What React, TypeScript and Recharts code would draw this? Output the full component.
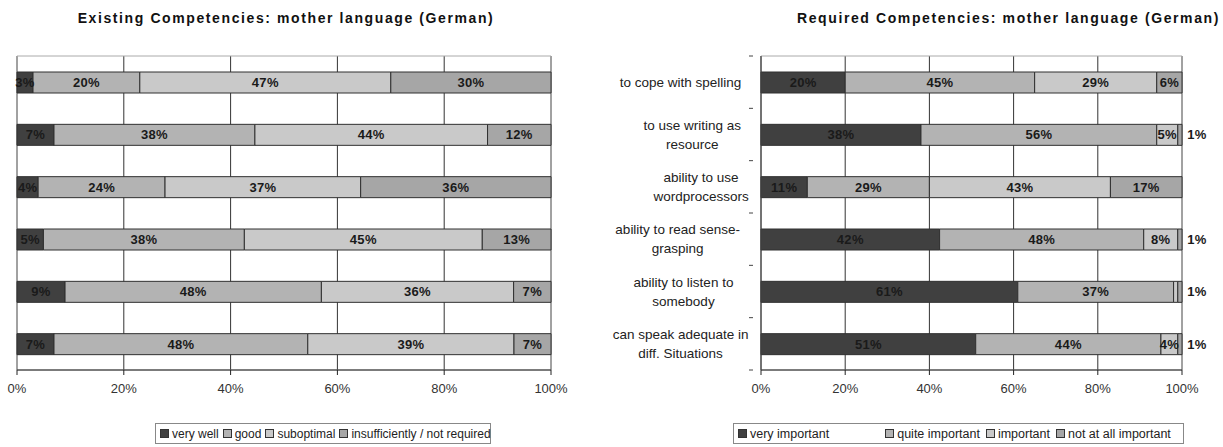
import React from 'react';
import { BarChart, Bar, XAxis, YAxis, CartesianGrid, LabelList, ReferenceArea } from 'recharts';

// ---------- Data ----------
const existingRows = ['r1', 'r2', 'r3', 'r4', 'r5', 'r6'];
const existVeryWell = [3, 7, 4, 5, 9, 7];
const existGood = [20, 38, 24, 38, 48, 48];
const existSuboptimal = [47, 44, 37, 45, 36, 39];
const existInsufficient = [30, 12, 36, 13, 7, 7];
const existLegend = ['very well', 'good', 'suboptimal', 'insufficiently / not required'];

const requiredRows = [
  'to cope with spelling',
  'to use writing as\nresource',
  'ability to use\nwordprocessors',
  'ability to read sense-\ngrasping',
  'ability to listen to\nsomebody',
  'can speak adequate in\ndiff. Situations',
];
const reqVeryImportant = [20, 38, 11, 42, 61, 51];
const reqQuiteImportant = [45, 56, 29, 48, 37, 44];
const reqImportant = [29, 5, 43, 8, 1, 4];
const reqNotImportant = [6, 1, 17, 1, 1, 1];
const reqLegend = ['very important', 'quite important', 'important', 'not at all important'];

const xTicks = [0, 0.2, 0.4, 0.6, 0.8, 1];

const existingData = existingRows.map((cat, i) => ({
  cat,
  a: existVeryWell[i],
  b: existGood[i],
  c: existSuboptimal[i],
  d: existInsufficient[i],
}));

const requiredData = requiredRows.map((cat, i) => ({
  cat,
  a: reqVeryImportant[i],
  b: reqQuiteImportant[i],
  c: reqImportant[i],
  d: reqNotImportant[i],
}));

// ---------- Styles ----------
const FONT = '"Liberation Sans", Arial, sans-serif';
const COLORS = ['#404040', '#b3b3b3', '#c9c9c9', '#a6a6a6'];
const STROKE = '#303030';

const CHART_H = 410;
const PLOT_TOP = 56;
const PLOT_BOTTOM = 370;
const AXIS_H = 30;

const pct = (v: number) => `${Math.round(v * 100)}%`;

const makeLabel = (mode: 'inside' | 'hideSmall' | 'outsideSmall') => (props: any) => {
  const { x, y, width, height, value } = props;
  if (value == null) return null;
  const cy = Number(y) + Number(height) / 2;
  if (mode === 'hideSmall' && value <= 1) return null;
  let cx = Number(x) + Number(width) / 2;
  if (mode === 'outsideSmall' && value <= 1) cx = Number(x) + Number(width) + 15;
  return (
    <text
      x={cx}
      y={cy}
      textAnchor="middle"
      dominantBaseline="central"
      fontFamily={FONT}
      fontWeight="bold"
      fontSize={13}
      letterSpacing={0.3}
      fill="#1a1a1a"
    >
      {`${value}%`}
    </text>
  );
};

const RequiredTick = (props: any) => {
  const { x, y, payload } = props;
  const lines: string[] = String(payload.value).split('\n');
  const band = (PLOT_BOTTOM - PLOT_TOP) / requiredRows.length;
  const maxLen = Math.max(...lines.map((l) => l.length));
  const charW = 5.85;
  const right = Number(x) - 11;
  const cx = right - (maxLen * charW) / 2;
  const lh = 19;
  const startY = Number(y) - ((lines.length - 1) * lh) / 2;
  return (
    <g>
      <line x1={Number(x) - 4} x2={Number(x)} y1={Number(y) - band / 2} y2={Number(y) - band / 2} stroke="#444" />
      {props.index === requiredRows.length - 1 && (
        <line x1={Number(x) - 4} x2={Number(x)} y1={Number(y) + band / 2} y2={Number(y) + band / 2} stroke="#444" />
      )}
      {lines.map((l, i) => (
        <text
          key={i}
          x={cx}
          y={startY + i * lh}
          textAnchor="middle"
          dominantBaseline="central"
          fontFamily={FONT}
          fontSize={13.5}
          fill="#222"
        >
          {l}
        </text>
      ))}
    </g>
  );
};

const LegendBox = ({
  items,
  left,
  width,
  fontSize,
  gapAfterFirst,
  gap,
}: {
  items: string[];
  left: number;
  width: number;
  fontSize: number;
  gapAfterFirst?: number;
  gap: number;
}) => (
  <div
    style={{
      position: 'absolute',
      left,
      top: 423,
      width,
      height: 21,
      border: '1px solid #888',
      boxSizing: 'border-box',
      display: 'flex',
      alignItems: 'center',
      paddingLeft: 4,
      fontFamily: FONT,
      fontSize,
      color: '#222',
      whiteSpace: 'nowrap',
    }}
  >
    {items.map((it, i) => (
      <span
        key={it}
        style={{ display: 'inline-flex', alignItems: 'center', marginRight: i === 0 && gapAfterFirst ? gapAfterFirst : gap }}
      >
        <span
          style={{
            display: 'inline-block',
            width: 7,
            height: 7,
            background: COLORS[i],
            border: '1px solid #333',
            marginRight: 3,
          }}
        />
        {it}
      </span>
    ))}
  </div>
);

const titleStyle = (center: number, width: number): React.CSSProperties => ({
  position: 'absolute',
  left: center - width / 2,
  top: 10,
  width,
  textAlign: 'center',
  fontFamily: FONT,
  fontWeight: 'bold',
  fontSize: 14,
  letterSpacing: 1.6,
  color: '#111',
  whiteSpace: 'nowrap',
});

export default function App() {
  return (
    <div style={{ position: 'absolute', left: 0, top: 0, width: 1223, height: 447, background: '#fff', overflow: 'hidden' }}>
      <div style={titleStyle(286, 480)}>Existing Competencies: mother language (German)</div>
      <div style={titleStyle(1007, 420)}>Required Competencies: mother language (German)</div>

      {/* Left chart */}
      <div style={{ position: 'absolute', left: 0, top: 0 }}>
        <BarChart
          width={600}
          height={CHART_H}
          data={existingData}
          layout="vertical"
          stackOffset="expand"
          barSize={21}
          margin={{ top: PLOT_TOP, right: 49, bottom: CHART_H - PLOT_BOTTOM - AXIS_H, left: 17 }}
        >
          <CartesianGrid horizontal={false} vertical stroke="#333" />
          <ReferenceArea x1={0} x2={1} fill="none" stroke="#aaa" ifOverflow="extendDomain" />
          <XAxis
            type="number"
            domain={[0, 1]}
            ticks={xTicks}
            tickFormatter={pct}
            height={AXIS_H}
            tickSize={5}
            tickMargin={9}
            stroke="#222"
            tick={{ fontFamily: FONT, fontSize: 13, fill: '#333' }}
          />
          <YAxis type="category" dataKey="cat" width={0} tick={false} tickLine={false} stroke="#555" />
          {(['a', 'b', 'c', 'd'] as const).map((k, i) => (
            <Bar key={k} dataKey={k} stackId="s" fill={COLORS[i]} stroke={STROKE} strokeWidth={1} isAnimationActive={false}>
              <LabelList dataKey={k} content={makeLabel('inside')} />
            </Bar>
          ))}
        </BarChart>
      </div>

      {/* Right chart */}
      <div style={{ position: 'absolute', left: 600, top: 0 }}>
        <BarChart
          width={623}
          height={CHART_H}
          data={requiredData}
          layout="vertical"
          stackOffset="expand"
          barSize={21}
          margin={{ top: PLOT_TOP, right: 41, bottom: CHART_H - PLOT_BOTTOM - AXIS_H, left: 0 }}
        >
          <CartesianGrid horizontal={false} vertical stroke="#333" />
          <ReferenceArea x1={0} x2={1} fill="none" stroke="#aaa" ifOverflow="extendDomain" />
          <XAxis
            type="number"
            domain={[0, 1]}
            ticks={xTicks}
            tickFormatter={pct}
            height={AXIS_H}
            tickSize={5}
            tickMargin={9}
            stroke="#222"
            tick={{ fontFamily: FONT, fontSize: 13, fill: '#333' }}
          />
          <YAxis
            type="category"
            dataKey="cat"
            width={161}
            tickLine={false}
            stroke="#444"
            tick={<RequiredTick />}
            interval={0}
          />
          <Bar dataKey="a" stackId="s" fill={COLORS[0]} stroke={STROKE} isAnimationActive={false}>
            <LabelList dataKey="a" content={makeLabel('inside')} />
          </Bar>
          <Bar dataKey="b" stackId="s" fill={COLORS[1]} stroke={STROKE} isAnimationActive={false}>
            <LabelList dataKey="b" content={makeLabel('inside')} />
          </Bar>
          <Bar dataKey="c" stackId="s" fill={COLORS[2]} stroke={STROKE} isAnimationActive={false}>
            <LabelList dataKey="c" content={makeLabel('hideSmall')} />
          </Bar>
          <Bar dataKey="d" stackId="s" fill={COLORS[3]} stroke={STROKE} isAnimationActive={false}>
            <LabelList dataKey="d" content={makeLabel('outsideSmall')} />
          </Bar>
        </BarChart>
      </div>

      <LegendBox items={existLegend} left={155} width={336} fontSize={12} gap={4} />
      <LegendBox items={reqLegend} left={733} width={451} fontSize={12.5} gapAfterFirst={56} gap={6} />
    </div>
  );
}
